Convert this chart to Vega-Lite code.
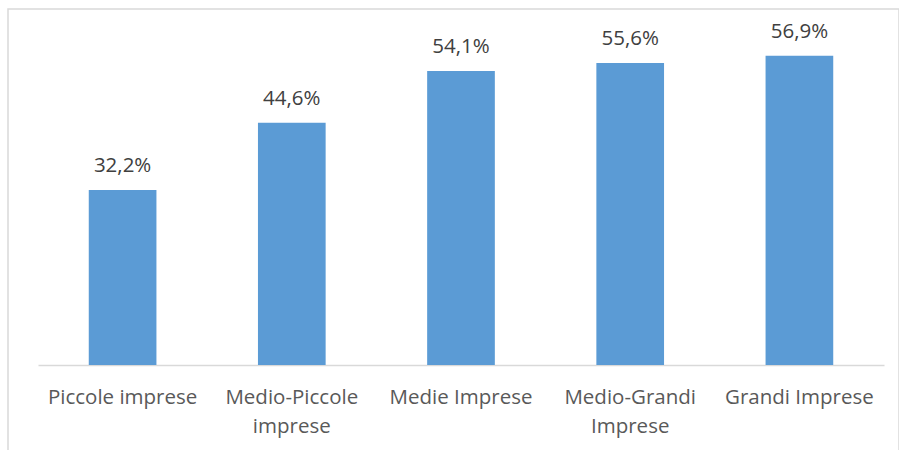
{
  "$schema": "https://vega.github.io/schema/vega-lite/v6.json",
  "width": 891,
  "height": 445,
  "autosize": "none",
  "padding": {"left": 8, "top": 9, "right": 0, "bottom": 0},
  "background": "white",
  "config": {
    "locale": {"number": {"decimal": ",", "thousands": ".", "grouping": [3], "currency": ["€", ""]}},
    "view": {"stroke": "#d9d9d9", "strokeWidth": 1.5},
    "font": "Open Sans"
  },
  "data": {
    "values": [
      {"categoria": "Piccole imprese", "quota": 0.322},
      {"categoria": "Medio-Piccole imprese", "quota": 0.446},
      {"categoria": "Medie Imprese", "quota": 0.541},
      {"categoria": "Medio-Grandi Imprese", "quota": 0.556},
      {"categoria": "Grandi Imprese", "quota": 0.569}
    ]
  },
  "encoding": {
    "x": {
      "field": "categoria",
      "type": "nominal",
      "sort": null,
      "scale": {"range": [30, 876], "paddingInner": 0.6, "paddingOuter": 0.3},
      "axis": {
        "title": null,
        "offset": -89,
        "ticks": false,
        "domainColor": "#d9d9d9",
        "domainWidth": 1.5,
        "labelAngle": 0,
        "labelFont": "Open Sans",
        "labelFontSize": 20.5,
        "labelColor": "#595959",
        "labelPadding": 22,
        "labelLineHeight": 29,
        "labelExpr": "indexof(datum.value, '-') > 0 ? split(datum.value, ' ') : datum.value"
      }
    },
    "y": {
      "field": "quota",
      "type": "quantitative",
      "scale": {"domain": [0, 0.6], "range": [356, 30]},
      "axis": null
    }
  },
  "layer": [
    {"mark": {"type": "bar", "color": "#5b9bd5"}},
    {
      "mark": {"type": "text", "font": "Open Sans", "fontSize": 20.5, "color": "#404040", "baseline": "alphabetic", "dy": -18},
      "encoding": {"text": {"field": "quota", "type": "quantitative", "format": ".1%"}}
    }
  ]
}
